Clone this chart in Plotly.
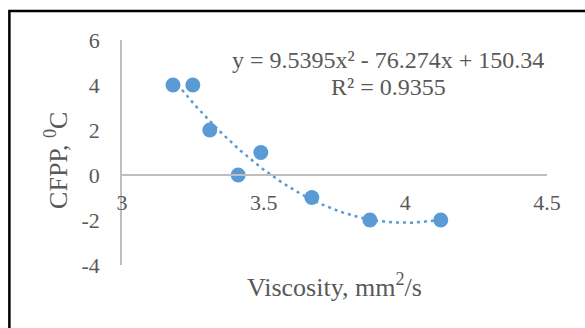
import numpy as np
import plotly.graph_objects as go

# Data
viscosity = [3.18, 3.25, 3.31, 3.41, 3.49, 3.67, 3.875, 4.125]
cfpp = [4, 4, 2, 0, 1, -1, -2, -2]

# Displayed polynomial trendline coefficients (a*x^2 + b*x + c)
trend_coeffs = [9.5395, -76.274, 150.34]
r_squared = 0.9355

x_ticks = [3, 3.5, 4, 4.5]
x_tick_labels = ["3", "3.5", "4", "4.5"]
y_ticks = [-4, -2, 0, 2, 4, 6]
y_tick_labels = ["-4", "-2", "0", "2", "4", "6"]

BLUE = "#5B9BD5"
TXT = "#595959"
AX = "#BFBFBF"
FONT = "Liberation Serif, Times New Roman, serif"

xs = np.linspace(min(viscosity), max(viscosity), 200)
ys = np.polyval(trend_coeffs, xs)

fig = go.Figure()
fig.add_trace(go.Scatter(
    x=xs, y=ys, mode="lines",
    line=dict(color=BLUE, width=2.5, dash="3px,4px"),
    hoverinfo="skip", showlegend=False,
))
fig.add_trace(go.Scatter(
    x=viscosity, y=cfpp, mode="markers",
    marker=dict(color=BLUE, size=15, line=dict(width=0)),
    showlegend=False,
))

fig.update_layout(
    width=585, height=328,
    margin=dict(l=122, r=38, t=40, b=63),
    paper_bgcolor="white", plot_bgcolor="white",
    font=dict(family=FONT, color=TXT, size=22),
    xaxis=dict(
        range=[3, 4.5], tickvals=x_ticks, ticktext=x_tick_labels,
        showgrid=False, zeroline=False,
        showline=True, linecolor=AX, linewidth=1.5,
        anchor="free", position=0.4,
        ticks="outside", ticklen=8, tickcolor="rgba(0,0,0,0)",
        tickfont=dict(family=FONT, color=TXT, size=22),
    ),
    yaxis=dict(
        range=[-4, 6], tickvals=y_ticks, ticktext=y_tick_labels,
        showgrid=False, zeroline=False,
        showline=True, linecolor=AX, linewidth=1.5,
        ticks="outside", ticklen=16, tickcolor="rgba(0,0,0,0)",
        tickfont=dict(family=FONT, color=TXT, size=22),
    ),
)

a, b, c = trend_coeffs
eq_text = f"y = {a}x² - {abs(b)}x + {c}"
fig.add_annotation(xref="paper", yref="paper", x=0.626, y=0.911,
                   text=eq_text, showarrow=False, xanchor="center", yanchor="middle",
                   font=dict(family=FONT, color=TXT, size=24))
fig.add_annotation(xref="paper", yref="paper", x=0.626, y=0.791,
                   text=f"R² = {r_squared}", showarrow=False, xanchor="center", yanchor="middle",
                   font=dict(family=FONT, color=TXT, size=24))

fig.add_annotation(xref="paper", yref="paper", x=0.5, y=-0.089,
                   text="Viscosity, mm<sup>2</sup>/s", showarrow=False,
                   xanchor="center", yanchor="middle",
                   font=dict(family=FONT, color=TXT, size=26))
fig.add_annotation(xref="paper", yref="paper", x=-0.153, y=0.467,
                   text="CFPP, <sup>0</sup>C", showarrow=False, textangle=-90,
                   xanchor="center", yanchor="middle",
                   font=dict(family=FONT, color=TXT, size=26))

# Outer chart border
fig.add_shape(type="rect", xref="paper", yref="paper",
              x0=-0.265, x1=1.2, y0=-0.5, y1=1.129,
              line=dict(color="black", width=2.5), fillcolor="rgba(0,0,0,0)", layer="below")

fig.write_html("out.html")
